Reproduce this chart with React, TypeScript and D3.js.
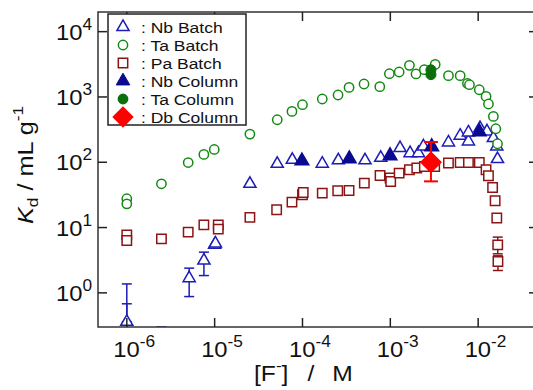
import * as d3 from 'd3';

// Kd vs [F-] — batch and column data
const taBatch: [number, number][] = [
  [1e-6, 27.6], [1e-6, 23.1], [2.48e-6, 46.8], [5.0e-6, 99], [7.54e-6, 132], [9.9e-6, 157],
  [2.52e-5, 270], [5.16e-5, 448], [7.59e-5, 601], [1.0e-4, 761], [1.68e-4, 930], [2.54e-4, 1071],
  [3.39e-4, 1400], [5.02e-4, 1580], [7.59e-4, 1436], [9.76e-4, 2270], [1.26e-3, 2410],
  [1.65e-3, 3050], [1.96e-3, 2250], [2.44e-3, 2620], [3.24e-3, 3150], [4.59e-3, 2120],
  [6.24e-3, 2120], [7.55e-3, 1610], [7.96e-3, 1540], [1.03e-2, 1290], [1.23e-2, 1020],
  [1.31e-2, 780], [1.49e-2, 504], [1.59e-2, 326], [1.66e-2, 192],
];

const nbBatch: [number, number][] = [
  [1e-6, 0.36], [5.13e-6, 1.68], [7.55e-6, 3.13], [1e-5, 5.44], [1.02e-5, 5.7], [2.52e-5, 46.8],
  [5.16e-5, 94.8], [7.66e-5, 109], [1.68e-4, 95], [2.56e-4, 107], [5.15e-4, 107], [7.78e-4, 117],
  [1.29e-3, 165], [1.68e-3, 138], [2.09e-3, 138], [2.38e-3, 175], [4.59e-3, 201], [6.24e-3, 255],
  [7.75e-3, 208], [7.75e-3, 286], [1.05e-2, 334], [1.26e-2, 297], [1.49e-2, 235], [1.63e-2, 175],
  [1.66e-2, 112],
];
// [x, low, high]
const nbBatchErr: [number, number, number][] = [
  [1e-6, 0.2, 0.68], [1e-6, 0.36, 1.37], [2.48e-6, 0.1, 0.3], [5.13e-6, 0.877, 2.39], [7.55e-6, 1.84, 4.2],
];

const paBatch: [number, number][] = [
  [1e-6, 7.74], [1e-6, 6.34], [2.48e-6, 6.72], [5e-6, 8.51], [7.54e-6, 11.0], [1.1e-5, 11.0],
  [1.1e-5, 9.46], [2.52e-5, 14.3], [5.08e-5, 18.7], [7.59e-5, 24.5], [1e-4, 31.8], [1.02e-4, 34.5],
  [1.68e-4, 33.7], [2.52e-4, 36.6], [3.39e-4, 37], [5.06e-4, 48], [7.64e-4, 62.8], [9.93e-4, 57.3],
  [1.01e-3, 50.8], [1.26e-3, 68.3], [1.65e-3, 76.7], [2.0e-3, 81.5], [2.44e-3, 86.2], [3.2e-3, 86],
  [4.59e-3, 97.2], [6.24e-3, 99.3], [7.75e-3, 99.3], [1.03e-2, 99.3], [1.23e-2, 76.7],
  [1.31e-2, 62.1], [1.46e-2, 41.1], [1.56e-2, 25.7], [1.63e-2, 14.0], [1.67e-2, 5.44], [1.68e-2, 3.02],
];
const paBatchErr: [number, number, number][] = [
  [1.67e-2, 3.96, 7.14], [1.68e-2, 2.2, 3.69],
];

const nbColumn: [number, number][] = [
  [9.86e-5, 105], [3.41e-4, 113], [9.93e-4, 126], [2.96e-3, 173], [1.03e-2, 293],
];
const taColumn: [number, number][] = [[2.9e-3, 2600], [2.9e-3, 2200]];
const dbColumn: [number, number][] = [[2.9e-3, 100]];
const dbColumnErr: [number, number, number][] = [[2.9e-3, 51, 204]];

const xTicks = [1e-6, 1e-5, 1e-4, 1e-3, 1e-2];
const yTicks = [1, 10, 100, 1000, 10000];

const legendItems = [': Nb Batch', ': Ta Batch', ': Pa Batch', ': Nb Column', ': Ta Column', ': Db Column'];

const BLUE = '#1c1cb8';
const NAVY = '#0a0a90';
const GREEN = '#128a12';
const DKGREEN = '#0b700b';
const DKRED = '#8c1414';
const RED = '#ff0000';
const FONT = '"Liberation Sans", Arial, Helvetica, sans-serif';

const left = 98, right = 538, top = 12, bottom = 327;

const x = d3.scaleLog().domain([4.7e-7, 0.048]).range([left, right]);
const y = d3.scaleLog().domain([0.3, 20000]).range([bottom, top]);

const tri = d3.symbol(d3.symbolTriangle, 64)()!;
const triFilled = d3.symbol(d3.symbolTriangle, 80)()!;
const circ = d3.symbol(d3.symbolCircle, 68)()!;
const sq = d3.symbol(d3.symbolSquare, 88)()!;
const diam = d3.symbol(d3.symbolSquare, 200)()!;
const circBig = d3.symbol(d3.symbolCircle, 80)()!;

const exp = (v: number) => String(Math.round(Math.log10(v)));

function Markers({ data, d, fill, stroke, rotate = 0 }: { data: [number, number][]; d: string; fill: string; stroke: string; rotate?: number }) {
  return (
    <g>
      {data.map(([xv, yv], i) => (
        <path key={i} d={d} transform={`translate(${x(xv)},${y(yv)}) rotate(${rotate})`}
          fill={fill} stroke={stroke} strokeWidth={1.5} />
      ))}
    </g>
  );
}

function ErrBars({ data, color, cap, width }: { data: [number, number, number][]; color: string; cap: number; width: number }) {
  return (
    <g stroke={color} strokeWidth={width} fill="none">
      {data.map(([xv, lo, hi], i) => {
        const cx = x(xv);
        return (
          <g key={i}>
            <line x1={cx} x2={cx} y1={y(lo)} y2={y(hi)} />
            <line x1={cx - cap} x2={cx + cap} y1={y(lo)} y2={y(lo)} />
            <line x1={cx - cap} x2={cx + cap} y1={y(hi)} y2={y(hi)} />
          </g>
        );
      })}
    </g>
  );
}

export default function App() {
  const legendMarks = [
    <path d={tri} fill="white" stroke={BLUE} strokeWidth={1.5} />,
    <path d={circ} fill="white" stroke={GREEN} strokeWidth={1.5} />,
    <path d={sq} fill="white" stroke={DKRED} strokeWidth={1.5} />,
    <path d={triFilled} fill={NAVY} stroke={NAVY} strokeWidth={1} />,
    <path d={circ} fill={DKGREEN} stroke={DKGREEN} strokeWidth={1.5} />,
    <path d={diam} transform="rotate(45)" fill={RED} stroke={RED} strokeWidth={1} />,
  ];

  return (
    <div style={{ position: 'absolute', left: 0, top: 0 }}>
      <svg width={533} height={390} style={{ display: 'block', fontFamily: FONT }}>
        <rect width={533} height={390} fill="white" />
        <defs>
          <clipPath id="plot">
            <rect x={left} y={top} width={right - left} height={bottom - top} />
          </clipPath>
        </defs>

        {/* data */}
        <g clipPath="url(#plot)">
          <ErrBars data={paBatchErr} color={DKRED} cap={5} width={1.5} />
          <Markers data={paBatch} d={sq} fill="white" stroke={DKRED} />
          <ErrBars data={nbBatchErr} color={BLUE} cap={5} width={1.5} />
          <Markers data={nbBatch} d={tri} fill="white" stroke={BLUE} />
          <Markers data={taBatch} d={circ} fill="white" stroke={GREEN} />
          <Markers data={nbColumn} d={triFilled} fill={NAVY} stroke={NAVY} />
          <g>
            {taColumn.map(([xv, yv], i) => (
              <path key={i} d={circBig} transform={`translate(${x(xv)},${y(yv)})`} fill={DKGREEN} stroke={DKGREEN} />
            ))}
          </g>
          <ErrBars data={dbColumnErr} color={RED} cap={7} width={2} />
          <Markers data={dbColumn} d={diam} fill={RED} stroke={RED} rotate={45} />
        </g>

        {/* frame and ticks */}
        <rect x={left} y={top} width={right - left} height={bottom - top} fill="none" stroke="#333" strokeWidth={1.5} />
        <g stroke="#222" strokeWidth={1.5}>
          {xTicks.map((t) => (
            <g key={t}>
              <line x1={x(t)} x2={x(t)} y1={bottom} y2={bottom - 9} />
              <line x1={x(t)} x2={x(t)} y1={top} y2={top + 9} />
            </g>
          ))}
          {yTicks.map((t) => (
            <g key={t}>
              <line x1={left} x2={left + 9} y1={y(t)} y2={y(t)} />
              <line x1={right} x2={right - 9} y1={y(t)} y2={y(t)} />
            </g>
          ))}
        </g>

        {/* tick labels */}
        <g fill="#111">
          {xTicks.map((t) => (
            <text key={t} transform={`translate(${x(t) - 13.5},357) scale(1.08,1)`} fontSize={22}>
              10<tspan fontSize={16} dy={-10}>{exp(t)}</tspan>
            </text>
          ))}
          {yTicks.map((t) => (
            <text key={t} transform={`translate(92,${y(t) + 8}) scale(1.08,1)`} fontSize={22} textAnchor="end">
              10<tspan fontSize={16} dy={-10}>{exp(t)}</tspan>
            </text>
          ))}
        </g>

        {/* axis titles */}
        <text transform="translate(254,381) scale(1.12,1)" fontSize={22} fill="#111">
          [F<tspan fontSize={15} dy={-10}>-</tspan><tspan dy={10}>]</tspan>
          <tspan dx={17}>/</tspan><tspan dx={16}>M</tspan>
        </text>
        <text transform="translate(33,165) rotate(-90) scale(1.15,1)" fontSize={22} textAnchor="middle" fill="#111">
          <tspan fontStyle="italic">K</tspan><tspan fontSize={15} dy={5}>d</tspan>
          <tspan dy={-5}> / mL g</tspan><tspan fontSize={15} dy={-10}>-1</tspan>
        </text>

        {/* legend */}
        <rect x={108} y={14} width={138} height={111} fill="white" stroke="#222" strokeWidth={1.5} />
        {legendItems.map((label, i) => {
          const cy = 27 + i * 18;
          return (
            <g key={label}>
              <g transform={`translate(123,${cy})`}>{legendMarks[i]}</g>
              <text transform={`translate(141,${cy + 5.5}) scale(1.13,1)`} fontSize={15.5} fill="#111">{label}</text>
            </g>
          );
        })}
      </svg>
    </div>
  );
}
